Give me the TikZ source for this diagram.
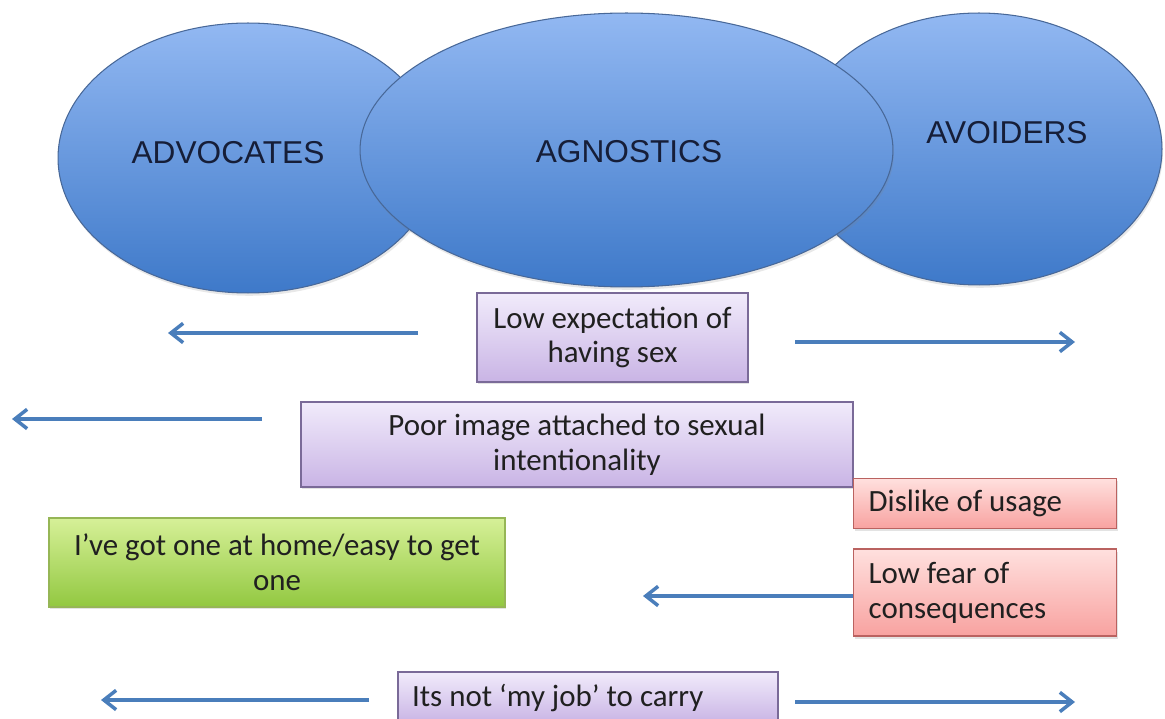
\documentclass[tikz,border=0pt]{standalone}
\usepackage{fontspec}
\setmainfont{Carlito}
\newfontfamily\grpfont{Liberation Sans}
\usetikzlibrary{arrows.meta,positioning,shapes.geometric,shadows}
\definecolor{ellT}{RGB}{146,184,242}
\definecolor{ellB}{RGB}{62,121,201}
\definecolor{ellD}{RGB}{72,104,152}
\definecolor{ellTx}{RGB}{22,30,56}
\definecolor{purT}{RGB}{241,235,251}
\definecolor{purB}{RGB}{201,180,229}
\definecolor{purD}{RGB}{122,106,152}
\definecolor{redT}{RGB}{255,224,222}
\definecolor{redB}{RGB}{248,162,160}
\definecolor{redD}{RGB}{186,98,96}
\definecolor{grnT}{RGB}{214,240,152}
\definecolor{grnB}{RGB}{146,200,64}
\definecolor{grnD}{RGB}{150,182,86}
\definecolor{arrC}{RGB}{74,126,187}
\definecolor{boxTx}{RGB}{32,32,32}

\begin{document}
\begin{tikzpicture}[x=0.02cm,y=-0.02cm,
  grp/.style={ellipse,draw=ellD,line width=0.6pt,top color=ellT,bottom color=ellB,
    drop shadow={opacity=0.18,shadow xshift=0.6pt,shadow yshift=-1.6pt}},
  grptxt/.style={font=\grpfont\fontsize{18}{21}\selectfont,text=ellTx,inner sep=0pt},
  box/.style={line width=0.8pt,inner xsep=0.3cm,inner ysep=0pt,text=boxTx,
    font=\fontsize{17.6}{19.8}\selectfont,
    drop shadow={opacity=0.22,shadow xshift=0.8pt,shadow yshift=-1.4pt}},
  pbox/.style={box,draw=purD,top color=purT,bottom color=purB,align=center},
  rbox/.style={box,draw=redD,top color=redT,bottom color=redB,align=flush left,text width=4.66cm},
  gbox/.style={box,draw=grnD,top color=grnT,bottom color=grnB,align=center},
  arr/.style={draw=arrC,line width=2pt,-{Straight Barb[length=7pt,width=11pt]}}]
\useasboundingbox (0,0) rectangle (1165,719);
\clip (0,0) rectangle (1165,719);
\node[grp,minimum width=7.6cm,minimum height=5.4cm] (advoc) at (248,158) {};
\node[grp,minimum width=7.32cm,minimum height=5.44cm] (avoid) at (979,149) {};
\node[grp,minimum width=10.66cm,minimum height=5.48cm] (agnos) at (626.5,150) {};
\node[grptxt] (advocT) at (228,153) {ADVOCATES};
\node[grptxt] (agnosT) at (629,152) {AGNOSTICS};
\node[grptxt] (avoidT) at (1007,133) {AVOIDERS};
\node[pbox,minimum width=5.42cm,minimum height=1.78cm] (lowexp) at (612.5,337.5) {Low expectation of\\having sex};
\node[pbox,minimum width=11.04cm,minimum height=1.7cm] (poor) at (577,444.5) {Poor image attached to sexual\\intentionality};
\node[rbox,minimum height=1.0cm,anchor=north west] (dislike) at (853,478) {Dislike of usage};
\node[rbox,minimum height=1.74cm,below=0.38cm of dislike] (fear) {Low fear of\\consequences};
\node[gbox,minimum width=9.12cm,minimum height=1.78cm] (home) at (277,562.5) {I’ve got one at home/easy to get\\one};
\node[pbox,align=flush left,text width=7.04cm,inner xsep=0.28cm,minimum height=1.02cm] (myjob) at (588,697.5) {Its not ‘my job’ to carry};
\foreach \sx/\ex/\ay [count=\i] in {418/168/333,795/1075/342,262/12/419,369/101/700,795/1075/702}{
  \coordinate (arrS\i) at (\sx,\ay);
  \coordinate (arrE\i) at (\ex,\ay);
  \draw[arr] (arrS\i) -- (arrE\i);
}
\coordinate (fearE) at (643,596);
\draw[arr] (fear.west |- fearE) -- (fearE);
\end{tikzpicture}
\end{document}
